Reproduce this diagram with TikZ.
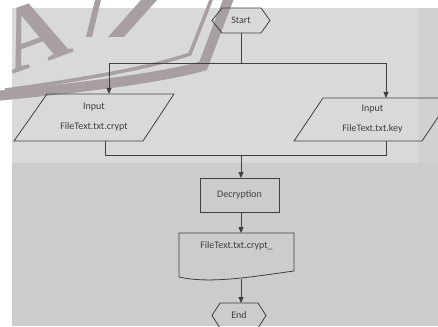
\documentclass[tikz,border=0pt]{standalone}
\usepackage{fontspec}
\setmainfont{Carlito}
\newfontfamily\markfont{Liberation Serif}
\usetikzlibrary{arrows.meta}
\definecolor{ink}{HTML}{404040}
\definecolor{panel}{HTML}{CCCCCC}
\definecolor{panelhi}{HTML}{D9D9D9}
\definecolor{panelside}{HTML}{D1D1D1}
\definecolor{sealgrey}{HTML}{A8A0A0}
\begin{document}
\begin{tikzpicture}[x=1pt,y=-1pt,
  line/.style={draw=ink, line width=0.8pt},
  flow/.style={line, -{Triangle[length=6pt,width=5pt]}},
  txt/.style={text=ink, font=\fontsize{10}{20}\selectfont, align=center},
  box/.style={inner sep=0pt, outer sep=0pt}]
\useasboundingbox (0,0) rectangle (438,326);
% page background and grey panels
\fill[white] (0,0) rectangle (438,326);
\fill[panel] (12,8) rectangle (438,326);
\fill[panelside] (418,8) rectangle (438,163);
\fill[panelhi] (12,8) rectangle (418,163);

% faint seal in the upper left corner
\node[text=sealgrey, box, font=\markfont\bfseries\fontsize{92}{92}\selectfont, rotate=20, anchor=base] (sealA) at (44,63) {A};
\fill[sealgrey] (86,37) -- (92,37) -- (101,0) -- (95,0) -- cycle;
\fill[sealgrey] (108,37) -- (124,37) -- (157,0) -- (141,0) -- cycle;
\draw[sealgrey, line width=10pt] (-5,96) .. controls (80,88) and (160,78) .. (203,66) -- (230,-5);
\draw[sealgrey, line width=3.5pt] (5,90) .. controls (80,80) and (150,68) .. (190,54) -- (213,-5);

% flow nodes
\node[box, txt, minimum width=58, minimum height=25] (start) at (241,20.5) {Start};
\draw[line] (start.west) -- ([xshift=10]start.north west) -- ([xshift=-9]start.north east)
  -- (start.east) -- ([xshift=-9]start.south east) -- ([xshift=10]start.south west) -- cycle;

\node[box, txt, minimum width=160, minimum height=47] (in1) at (94,117.5) {Input\\FileText.txt.crypt};
\draw[line] (in1.south west) -- ([xshift=33]in1.north west) -- (in1.north east)
  -- ([xshift=-31]in1.south east) -- cycle;

\node[box, txt, minimum width=157, minimum height=43] (in2) at (372.5,119.5) {Input\\FileText.txt.key};
\draw[line] (in2.south west) -- ([xshift=29]in2.north west) -- (in2.north east)
  -- ([xshift=-29]in2.south east) -- cycle;

\node[box, txt, draw=ink, line width=0.8pt, minimum width=79, minimum height=34] (dec) at (239.5,195) {Decryption};

\node[box, minimum width=115, minimum height=38] (doc) at (236.5,252) {};
\draw[line] (doc.south east) -- (doc.north east) -- (doc.north west) -- ([yshift=-6]doc.south west)
  .. controls ([xshift=31,yshift=-13]doc.south west) and ([xshift=71,yshift=-6]doc.south west) .. (doc.south east);
\node[txt, box] (doctext) at (236.5,246) {FileText.txt.crypt\_};

\node[box, txt, minimum width=54, minimum height=25] (end) at (239,315.5) {End};
\draw[line] (end.west) -- ([xshift=8]end.north west) -- ([xshift=-8]end.north east)
  -- (end.east) -- ([xshift=-8]end.south east) -- ([xshift=8]end.south west) -- cycle;

% connectors
\coordinate (split) at (241,63);
\coordinate (merge) at (241,155);
\coordinate (docout) at (241,279);
\draw[line] (start.south -| split) -- (split);
\draw[flow] (split) -| ([xshift=15]in1.north);
\draw[flow] (split) -| ([xshift=13.5]in2.north);
\draw[line] ([xshift=11]in1.south) |- (merge);
\draw[line] ([xshift=13.5]in2.south) |- (merge);
\draw[flow] (merge) -- (merge |- dec.north);
\draw[flow] (dec.south -| merge) -- (doc.north -| merge);
\draw[flow] (docout) -- (end.north -| docout);
\end{tikzpicture}
\end{document}
